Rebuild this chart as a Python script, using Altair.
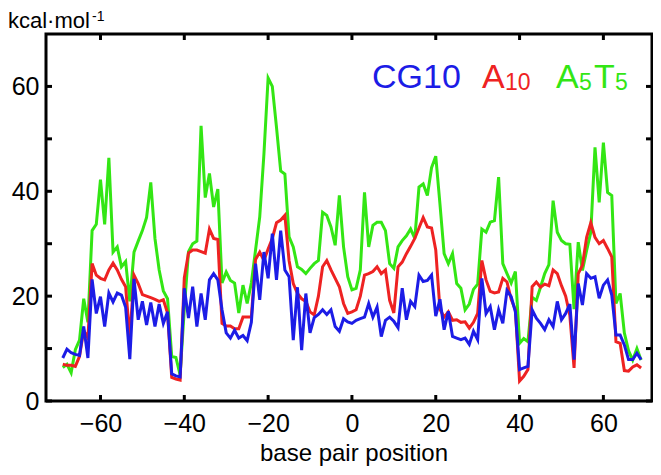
import altair as alt
import pandas as pd

positions = list(range(-69, 70))

cg10 = [
    8.2, 9.9, 9.2, 8.9, 8.7, 14.2, 8.2, 23.2, 16.7, 19.9,      # -69..-60
    14.2, 20.6, 18.9, 20.6, 20.2, 17.9, 8.0, 23.3, 15.5, 19.0, # -59..-50
    14.5, 18.8, 14.2, 18.5, 14.8, 17.0, 5.2, 4.8, 4.6, 21.5,   # -49..-40
    15.8, 21.8, 14.2, 20.5, 15.5, 23.1, 24.3, 23.1, 17.4, 13.0,# -39..-30
    12.0, 13.5, 12.0, 12.5, 11.5, 15.0, 26.2, 19.3, 28.4, 23.4,# -29..-20
    31.9, 23.1, 32.5, 25.0, 23.7, 11.6, 21.7, 9.7, 20.5, 13.0, # -19..-10
    15.9, 16.5, 17.4, 16.5, 17.4, 14.2, 13.3, 15.7, 15.1, 14.8,# -9..0
    15.4, 15.7, 16.0, 18.6, 16.0, 17.9, 12.3, 15.4, 16.0, 15.2,# 1..10
    14.0, 21.5, 15.5, 19.0, 18.0, 24.0, 22.8, 23.0, 24.0, 16.2,# 11..20
    19.4, 13.6, 17.1, 12.3, 12.0, 11.7, 12.0, 10.8, 13.3, 11.7,# 21..30
    23.4, 16.7, 18.0, 13.6, 17.4, 14.8, 21.1, 19.9, 17.0, 6.0, # 31..40
    6.3, 6.6, 17.4, 15.8, 14.8, 13.6, 15.5, 14.2, 19.0, 15.5,  # 41..50
    16.7, 18.5, 7.9, 22.4, 18.3, 24.3, 23.4, 23.7, 19.6, 22.1, # 51..60
    23.1, 20.2, 12.6, 12.6, 10.7, 7.9, 7.9, 9.1, 7.9,          # 61..69
]

a10 = [
    7.0, 6.8, 6.8, 6.6, 8.5, 13.5, 12.0, 26.2, 24.0, 23.4,
    23.1, 25.0, 26.3, 25.0, 23.2, 21.8, 12.0, 24.0, 22.4, 20.3,
    20.0, 19.7, 19.4, 19.0, 19.3, 16.8, 4.5, 4.2, 4.0, 23.5,
    28.2, 28.8, 28.8, 28.5, 28.2, 32.8, 31.0, 30.8, 14.8, 14.3,
    14.3, 13.8, 13.8, 16.0, 16.0, 16.0, 27.0, 28.4, 26.8, 29.0,
    31.0, 34.0, 34.5, 35.4, 26.8, 22.4, 20.5, 19.5, 19.0, 17.0,
    16.4, 20.0, 25.6, 26.8, 25.0, 23.4, 21.8, 18.6, 16.7, 17.0,
    17.4, 20.0, 24.0, 24.3, 24.7, 25.6, 24.3, 25.0, 19.2, 16.8,
    25.6, 26.5, 28.1, 29.5, 31.0, 33.0, 35.0, 33.2, 33.0, 28.8,
    17.5, 16.0, 17.0, 15.4, 15.5, 15.0, 15.1, 13.9, 15.0, 16.7,
    26.8, 23.1, 20.9, 20.6, 20.8, 23.4, 22.7, 19.4, 17.4, 3.8,
    4.7, 6.0, 21.8, 22.7, 21.7, 22.3, 22.0, 25.0, 24.3, 22.0,
    20.0, 16.3, 6.3, 24.3, 25.9, 31.2, 34.0, 31.2, 30.0, 30.6,
    29.1, 27.5, 11.3, 11.0, 5.8, 5.7, 6.5, 6.9, 6.3,
]

a5t5 = [
    6.4, 7.0, 5.4, 9.8, 11.6, 19.5, 15.0, 32.5, 33.7, 42.2,
    33.7, 46.4, 28.4, 29.4, 25.6, 26.6, 19.0, 28.4, 30.5, 32.5,
    35.0, 41.7, 31.0, 25.0, 21.0, 19.5, 8.5, 8.3, 5.0, 17.5,
    28.5, 30.0, 30.5, 52.5, 38.8, 43.4, 37.0, 40.4, 22.5, 24.6,
    23.0, 22.5, 16.8, 22.1, 18.6, 22.5, 28.8, 35.1, 47.1, 61.6,
    60.0, 52.2, 43.9, 43.3, 31.3, 29.4, 25.6, 25.1, 24.3, 25.3,
    26.2, 26.8, 36.0, 35.4, 33.2, 29.7, 39.2, 29.4, 23.7, 21.2,
    21.5, 25.0, 39.8, 29.4, 33.5, 34.1, 34.1, 32.5, 26.2, 25.3,
    29.4, 30.6, 31.5, 32.8, 31.0, 40.8, 41.4, 39.2, 44.5, 46.7,
    37.6, 28.1, 26.2, 28.1, 22.4, 21.5, 17.4, 18.5, 21.3, 22.3,
    32.8, 32.2, 34.1, 34.4, 42.7, 26.2, 24.3, 22.5, 24.7, 11.0,
    11.9, 11.3, 19.8, 19.2, 21.7, 24.3, 26.0, 38.2, 32.2, 30.6,
    30.0, 29.9, 17.5, 30.3, 24.9, 28.7, 32.2, 48.4, 37.9, 49.3,
    39.8, 39.2, 18.6, 20.5, 13.0, 9.6, 7.8, 10.0, 7.8,
]

x_ticks = [-60, -40, -20, 0, 20, 40, 60]
y_ticks = [0, 10, 20, 30, 40, 50, 60]
series_colors = ["#1c1ce6", "#ee2222", "#33e614"]

FONT = "Liberation Sans"
W, H = 606, 367

x_scale = alt.Scale(domain=[-73, 71.6], nice=False, zero=False)
y_scale = alt.Scale(domain=[0, 70], nice=False, zero=False)

x_axis = alt.Axis(values=x_ticks, orient="bottom", domain=False, grid=False,
                  ticks=False, labelPadding=10, labelColor="black",
                  labelFont=FONT, labelFontSize=25, title=None)
y_axis = alt.Axis(values=y_ticks, orient="left", domain=False, grid=False,
                  ticks=False, labelPadding=7, labelColor="black",
                  labelFont=FONT, labelFontSize=25, title=None,
                  labelExpr="datum.value % 20 == 0 ? datum.label : ''")


def line(values, color):
    df = pd.DataFrame({"pos": positions, "value": values})
    return alt.Chart(df).mark_line(color=color, strokeWidth=3).encode(
        x=alt.X("pos:Q", scale=x_scale, axis=x_axis),
        y=alt.Y("value:Q", scale=y_scale, axis=y_axis),
    )


green = line(a5t5, series_colors[2])
red = line(a10, series_colors[1])
blue = line(cg10, series_colors[0])

border = alt.Chart(pd.DataFrame({"b": [0]})).mark_rect(
    fillOpacity=0, stroke="black", strokeWidth=3
).encode(x=alt.value(0), x2=alt.value(W), y=alt.value(0), y2=alt.value(H))

xt = pd.DataFrame({"tick": x_ticks})
yt = pd.DataFrame({"tick": y_ticks})
TK = 6
ticks = [
    alt.Chart(xt).mark_rule(color="black", strokeWidth=3).encode(
        x=alt.X("tick:Q", scale=x_scale, axis=x_axis),
        y=alt.value(H), y2=alt.value(H - TK)),
    alt.Chart(xt).mark_rule(color="black", strokeWidth=3).encode(
        x=alt.X("tick:Q", scale=x_scale, axis=x_axis),
        y=alt.value(0), y2=alt.value(TK)),
    alt.Chart(yt).mark_rule(color="black", strokeWidth=3).encode(
        y=alt.Y("tick:Q", scale=y_scale, axis=y_axis),
        x=alt.value(0), x2=alt.value(TK)),
    alt.Chart(yt).mark_rule(color="black", strokeWidth=3).encode(
        y=alt.Y("tick:Q", scale=y_scale, axis=y_axis),
        x=alt.value(W), x2=alt.value(W - TK)),
]


def label(text, color, x, y, size, align="left"):
    return alt.Chart(pd.DataFrame({"t": [text]})).mark_text(
        align=align, baseline="alphabetic", font=FONT, fontSize=size, color=color
    ).encode(text="t:N", x=alt.value(x), y=alt.value(y))


texts = [
    label("CG10", series_colors[0], 326, 54, 34),
    label("A", series_colors[1], 436, 54, 34),
    label("10", series_colors[1], 459, 56, 23),
    label("A", series_colors[2], 510, 54, 34),
    label("5", series_colors[2], 533, 56, 23),
    label("T", series_colors[2], 548, 54, 34),
    label("5", series_colors[2], 569, 56, 23),
    label("kcal\u00b7mol", "black", -38, -6, 22),
    label("-1", "black", 46, -13, 14),
    label("base pair position", "black", 308, 427, 24, align="center"),
]

chart = alt.layer(green, red, blue, border, *ticks, *texts).properties(
    width=W, height=H, autosize="none",
    padding={"left": 38, "top": 26, "right": 1, "bottom": 66},
).configure_view(stroke=None)

chart.save("out.html", embed_options={"renderer": "svg", "actions": False})
